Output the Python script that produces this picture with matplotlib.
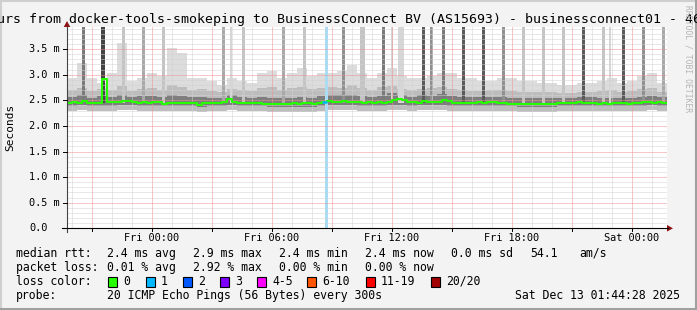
import numpy as np
import matplotlib
matplotlib.use("Agg")
import matplotlib.pyplot as plt
from matplotlib.patches import Rectangle, Polygon
from matplotlib.lines import Line2D

W, H = 697, 310
MONO = "DejaVu Sans Mono"

# time axis in hours after Thu 19:45 (30 hours shown)
x_tick_hours = [4.25, 10.25, 16.25, 22.25, 28.25]
x_tick_labels = ["Fri 00:00", "Fri 06:00", "Fri 12:00", "Fri 18:00", "Sat 00:00"]
y_tick_values = [0.0, 0.5, 1.0, 1.5, 2.0, 2.5, 3.0, 3.5]
y_tick_labels = ["0.0", "0.5 m", "1.0 m", "1.5 m", "2.0 m", "2.5 m", "3.0 m", "3.5 m"]

# median rtt (ms), one value per 15 minutes
median = [2.45, 2.46, 2.45, 2.49, 2.45, 2.44, 2.44, 2.91, 2.46, 2.47,
          2.46, 2.49, 2.48, 2.46, 2.45, 2.46, 2.45, 2.46, 2.46, 2.42,
          2.45, 2.44, 2.45, 2.45, 2.44, 2.44, 2.41, 2.44, 2.45, 2.44,
          2.45, 2.46, 2.52, 2.46, 2.45, 2.44, 2.45, 2.44, 2.45, 2.42,
          2.43, 2.43, 2.43, 2.43, 2.43, 2.44, 2.43, 2.45, 2.44, 2.42,
          2.45, 2.47, 2.48, 2.47, 2.46, 2.49, 2.47, 2.46, 2.46, 2.45,
          2.46, 2.45, 2.46, 2.44, 2.46, 2.51, 2.53, 2.50, 2.46, 2.46,
          2.45, 2.48, 2.47, 2.46, 2.46, 2.51, 2.49, 2.45, 2.44, 2.45,
          2.44, 2.45, 2.46, 2.45, 2.46, 2.46, 2.45, 2.44, 2.43, 2.43,
          2.42, 2.43, 2.42, 2.43, 2.42, 2.43, 2.42, 2.43, 2.44, 2.45,
          2.44, 2.45, 2.46, 2.44, 2.45, 2.44, 2.43, 2.44, 2.43, 2.45,
          2.44, 2.45, 2.43, 2.44, 2.45, 2.46, 2.47, 2.45, 2.46, 2.45]
median_loss = {51: 1}  # bin index -> lost pings

# smoke (ms), one value per 30 minutes
smoke_top = [2.93, 3.22, 2.93, 2.83, 3.03, 3.61, 2.88, 2.93, 3.03, 2.98,
             3.52, 3.42, 2.93, 2.93, 2.88, 2.79, 2.93, 2.88, 2.83, 3.03,
             3.08, 2.93, 3.03, 3.13, 2.98, 3.03, 3.03, 3.08, 3.18, 3.03,
             2.93, 3.03, 3.13, 2.98, 2.93, 2.93, 2.98, 3.03, 3.03, 2.93,
             2.93, 2.88, 2.88, 2.93, 2.93, 2.88, 2.88, 2.83, 2.83, 2.79,
             2.79, 2.83, 2.83, 2.88, 2.93, 2.83, 2.88, 2.98, 3.03, 2.83]
smoke_mid = [2.70, 2.74, 2.68, 2.72, 2.70, 2.78, 2.68, 2.72, 2.74, 2.70,
             2.80, 2.76, 2.70, 2.72, 2.68, 2.66, 2.72, 2.70, 2.68, 2.74,
             2.76, 2.70, 2.74, 2.76, 2.72, 2.74, 2.76, 2.74, 2.80, 2.74,
             2.70, 2.76, 2.78, 2.72, 2.70, 2.72, 2.74, 2.76, 2.72, 2.70,
             2.68, 2.68, 2.70, 2.70, 2.68, 2.66, 2.66, 2.66, 2.66, 2.64,
             2.64, 2.66, 2.66, 2.68, 2.70, 2.66, 2.68, 2.72, 2.74, 2.66]
smoke_hi = [2.56, 2.60, 2.55, 2.58, 2.57, 2.60, 2.57, 2.58, 2.58, 2.56,
            2.60, 2.58, 2.56, 2.56, 2.55, 2.55, 2.60, 2.56, 2.55, 2.56,
            2.55, 2.54, 2.55, 2.56, 2.55, 2.58, 2.60, 2.60, 2.60, 2.58,
            2.57, 2.58, 2.64, 2.60, 2.57, 2.60, 2.58, 2.62, 2.58, 2.56,
            2.56, 2.57, 2.57, 2.56, 2.55, 2.54, 2.54, 2.54, 2.54, 2.55,
            2.55, 2.56, 2.56, 2.55, 2.55, 2.55, 2.55, 2.57, 2.58, 2.57]
smoke_lo = [2.39, 2.40, 2.39, 2.38, 2.39, 2.40, 2.40, 2.39, 2.39, 2.39,
            2.39, 2.38, 2.38, 2.37, 2.38, 2.39, 2.40, 2.39, 2.38, 2.38,
            2.37, 2.37, 2.37, 2.37, 2.37, 2.38, 2.41, 2.40, 2.40, 2.39,
            2.39, 2.39, 2.41, 2.40, 2.39, 2.40, 2.40, 2.40, 2.39, 2.38,
            2.38, 2.39, 2.39, 2.39, 2.38, 2.37, 2.37, 2.37, 2.37, 2.38,
            2.38, 2.38, 2.38, 2.38, 2.38, 2.38, 2.38, 2.39, 2.40, 2.39]
smoke_min = [2.30, 2.31, 2.30, 2.29, 2.30, 2.31, 2.31, 2.30, 2.30, 2.29,
             2.29, 2.29, 2.29, 2.28, 2.29, 2.30, 2.31, 2.30, 2.29, 2.29,
             2.28, 2.28, 2.28, 2.28, 2.28, 2.29, 2.32, 2.31, 2.31, 2.30,
             2.30, 2.30, 2.32, 2.31, 2.30, 2.31, 2.31, 2.31, 2.30, 2.29,
             2.29, 2.30, 2.30, 2.30, 2.29, 2.28, 2.28, 2.28, 2.28, 2.29,
             2.29, 2.29, 2.29, 2.29, 2.29, 2.29, 2.29, 2.30, 2.31, 2.30]

# samples with pings far above the scale
spike_hours = [0.80, 1.80, 2.80, 3.80, 4.80, 7.80, 8.20, 8.80, 10.80, 11.85,
               13.80, 14.75, 15.80, 16.25, 16.70, 17.80, 18.20, 18.80, 19.80, 20.80,
               21.80, 22.80, 23.80, 24.80, 25.80, 26.80, 27.15, 27.80, 28.80, 29.80]
spike_minutes = [9, 12, 9, 9, 9, 9, 6, 9, 9, 9,
                 9, 15, 9, 6, 20, 9, 9, 9, 9, 9,
                 9, 9, 9, 9, 9, 9, 6, 9, 9, 9]
spike_pings = [5, 7, 2, 3, 2, 3, 1, 2, 3, 2,
               4, 2, 5, 1, 1, 6, 4, 5, 6, 6,
               4, 2, 2, 2, 6, 2, 1, 6, 4, 3]

# loss event (full height band)
loss_hours = [12.95]
loss_minutes = [9]

loss_names = ["0", "1", "2", "3", "4-5", "6-10", "11-19", "20/20"]
loss_colors = ["#26ff00", "#00b8ff", "#0059ff", "#7e00ff", "#ff00ff", "#ff5500", "#ff0000", "#a10000"]

legend_rows = [
    ["median rtt:", "2.4 ms avg", "2.9 ms max", "2.4 ms min", "2.4 ms now", "0.0 ms sd", "54.1", "am/s"],
    ["packet loss:", "0.01 % avg", "2.92 % max", "0.00 % min", "0.00 % now"],
]


def fx(x):
    return x / W


def fy(y):
    return 1 - y / H


fig = plt.figure(figsize=(W / 100, H / 100), dpi=100)
fig.patch.set_facecolor("#f3f3f3")

PX_MS = 51.2  # pixels per ms
top_px, bot_px = 27.0, 228.3
ymax = (bot_px - top_px) / PX_MS
ax = fig.add_axes([fx(67), fy(bot_px), 600 / W, (bot_px - top_px) / H])
ax.set_xlim(0, 30)
ax.set_ylim(0, ymax)
ax.set_facecolor("white")
for s in ax.spines.values():
    s.set_visible(False)
ax.set_xticks([])
ax.set_yticks([])

# smoke
t_s = np.arange(len(smoke_top) + 1) * 0.5
ext = lambda a: list(a) + [a[-1]]
ax.fill_between(t_s, ext(smoke_min), ext(smoke_top), step="post", color="#dcdcdc", lw=0, zorder=1)
ax.fill_between(t_s, ext(smoke_min), ext(smoke_mid), step="post", color="#bdbdbd", lw=0, zorder=1.1)
ax.fill_between(t_s, ext(smoke_lo), ext(smoke_hi), step="post", color="#7e7e7e", lw=0, zorder=1.2)

greys = {1: "#d6d6d6", 2: "#c4c4c4", 3: "#a8a8a8", 4: "#909090", 5: "#7a7a7a", 6: "#5a5a5a", 7: "#444444"}
for h, m, p in zip(spike_hours, spike_minutes, spike_pings):
    w = m / 60
    ax.fill_between([h - w / 2, h + w / 2], 2.45, ymax, color=greys[p], lw=0, zorder=1.5)

for h, m in zip(loss_hours, loss_minutes):
    w = m / 60
    ax.fill_between([h - w / 2, h + w / 2], 0, ymax, color="#a8dcf4", lw=0, zorder=1.6)

# grid, dotted like rrdtool
dash = (0, (1.0, 1.0))
for k in range(30):
    if k % 3 != 1:
        ax.axvline(0.25 + k, color="#d2d2d2", lw=0.72, ls=dash, zorder=3)
for v in np.arange(1, 40):
    if v % 5:
        ax.axhline(v / 10, color="#d2d2d2", lw=0.72, ls=dash, zorder=3)
for h in np.arange(1.25, 30, 3.0):
    ax.axvline(h, color="#f09090", lw=0.72, ls=dash, zorder=3.1)
for v in y_tick_values[1:]:
    ax.axhline(v, color="#f09090", lw=0.72, ls=dash, zorder=3.1)

# median line
t_m = np.arange(len(median) + 1) * 0.25
ax.step(t_m, ext(median), where="post", color=loss_colors[0], lw=1.5, zorder=5)
for b, n in median_loss.items():
    ax.hlines(median[b], b * 0.25, (b + 1) * 0.25, color=loss_colors[n], lw=1.8, zorder=6)

# axes lines, arrows, ticks
ax_col = "#8b1414"
fig.add_artist(Line2D([fx(62), fx(668)], [fy(bot_px)] * 2, color="black", lw=0.8))
fig.add_artist(Line2D([fx(67)] * 2, [fy(232), fy(top_px)], color="#444444", lw=0.8))
fig.add_artist(Polygon([(fx(667), fy(225)), (fx(667), fy(231.6)), (fx(673), fy(bot_px))],
                       closed=True, color=ax_col, lw=0))
fig.add_artist(Polygon([(fx(63.7), fy(27)), (fx(70.3), fy(27)), (fx(67), fy(21))],
                       closed=True, color=ax_col, lw=0))
for v in y_tick_values:
    yp = bot_px - v * PX_MS
    fig.add_artist(Line2D([fx(63), fx(67)], [fy(yp)] * 2, color="black", lw=0.7))
for h in np.arange(1.25, 30, 3.0):
    xp = 67 + h * 20
    fig.add_artist(Line2D([fx(xp)] * 2, [fy(bot_px), fy(bot_px + 3)], color="black", lw=0.7))

for v, lab in zip(y_tick_values, y_tick_labels):
    fig.text(fx(29), fy(bot_px - v * PX_MS), lab, fontsize=7.4, family=MONO, ha="left", va="center")
for h, lab in zip(x_tick_hours, x_tick_labels):
    fig.text(fx(67 + h * 20), fy(241), lab, fontsize=7.4, family=MONO, ha="center", va="baseline")

fig.text(fx(10), fy(127), "Seconds", fontsize=8, family=MONO, rotation=90, ha="center", va="center")

fig.text(fx(-3.5), fy(23), "urs from docker-tools-smokeping to BusinessConnect BV (AS15693) - businessconnect01 - 46",
         fontsize=9.5, family=MONO, ha="left", va="baseline")
fig.text(fx(688), fy(5), "RRDTOOL / TOBI OETIKER", fontsize=5.8, family=MONO, color="#b4b4b4",
         rotation=270, ha="center", va="top")

# legend
col_x = [16, 107, 193, 279, 365, 451, 530, 579]
for row, base in zip(legend_rows, [257, 271]):
    for txt, x in zip(row, col_x):
        fig.text(fx(x), fy(base), txt, fontsize=8.3, family=MONO, ha="left", va="baseline")

fig.text(fx(16), fy(285), "loss color:", fontsize=8.3, family=MONO, ha="left", va="baseline")
box_x = [108, 146, 183, 220, 257, 307, 366, 431]
for bx, name, col in zip(box_x, loss_names, loss_colors):
    fig.add_artist(Rectangle((fx(bx), fy(287)), 9 / W, 10 / H, transform=fig.transFigure,
                             facecolor=col, edgecolor="black", lw=0.8))
    fig.text(fx(bx + 15), fy(285), name, fontsize=8.3, family=MONO, ha="left", va="baseline")

fig.text(fx(16), fy(299), "probe:", fontsize=8.3, family=MONO, ha="left", va="baseline")
fig.text(fx(107), fy(299), "20 ICMP Echo Pings (56 Bytes) every 300s", fontsize=8.3, family=MONO,
         ha="left", va="baseline")
fig.text(fx(680), fy(299), "Sat Dec 13 01:44:28 2025", fontsize=8.3, family=MONO, ha="right", va="baseline")

# 3d frame
fig.add_artist(Line2D([0, 1], [fy(0.8)] * 2, color="#cfcfcf", lw=1.5))
fig.add_artist(Line2D([fx(0.8)] * 2, [0, 1], color="#cfcfcf", lw=1.5))
fig.add_artist(Line2D([0, 1], [fy(308.6)] * 2, color="#a0a0a0", lw=2.2))
fig.add_artist(Line2D([fx(695.6)] * 2, [0, 1], color="#a0a0a0", lw=2.2))

fig.savefig("out.png", dpi=100, facecolor=fig.get_facecolor())
